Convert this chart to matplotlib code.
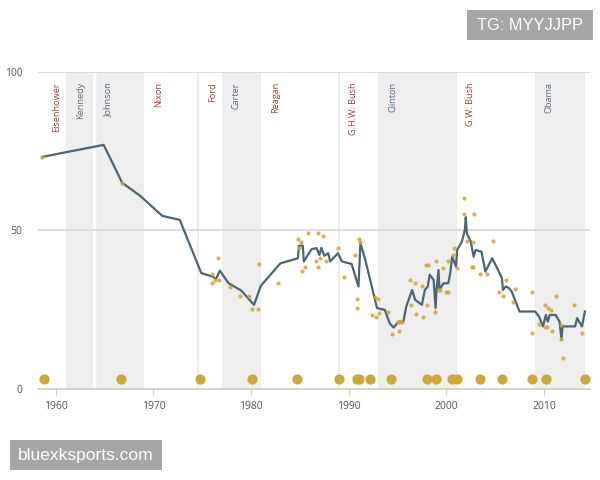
import matplotlib
matplotlib.use("Agg")
import matplotlib.pyplot as plt
from matplotlib.patches import Rectangle

# ---------------- data ----------------
presidents = ["Eisenhower", "Kennedy", "Johnson", "Nixon", "Ford", "Carter",
              "Reagan", "G.H.W. Bush", "Clinton", "G.W. Bush", "Obama"]
term_start = [1953.05, 1961.05, 1963.9, 1969.05, 1974.6, 1977.05,
              1981.05, 1989.05, 1993.05, 2001.05, 2009.05]
term_end = [1961.05, 1963.9, 1969.05, 1974.6, 1977.05, 1981.05,
            1989.05, 1993.05, 2001.05, 2009.05, 2014.2]
party = ["R", "D", "D", "R", "R", "D", "R", "R", "D", "R", "D"]

line_years = [1958.6, 1964.9, 1966.8, 1968.6, 1970.9, 1972.7, 1974.9, 1976.1, 1976.4, 1976.8,
              1977.7, 1979.0, 1980.3, 1981.0, 1983.0, 1984.8, 1984.9, 1985.3, 1985.4, 1986.2,
              1986.7, 1987.0, 1987.2, 1987.5, 1987.9, 1988.1, 1988.9, 1989.3, 1990.3, 1991.0,
              1991.2, 1991.7, 1992.9, 1993.7, 1994.2, 1994.6, 1995.1, 1995.6, 1995.9, 1996.5,
              1996.8, 1997.5, 1997.8, 1998.1, 1998.3, 1998.7, 1998.9, 1999.0, 1999.2, 1999.3,
              1999.7, 2000.2, 2000.4, 2000.6, 2001.0, 2001.1, 2001.6, 2001.9, 2002.0, 2002.1,
              2002.5, 2002.8, 2003.0, 2003.6, 2004.0, 2004.7, 2005.3, 2005.7, 2005.8, 2006.1,
              2006.4, 2006.7, 2007.5, 2009.1, 2009.5, 2009.9, 2010.2, 2010.4, 2010.6, 2011.2,
              2011.6, 2011.8, 2011.9, 2013.2, 2013.4, 2013.9, 2014.2]
line_values = [73.2, 77.0, 65.0, 61.0, 54.6, 53.3, 36.5, 35.4, 34.6, 37.3,
               33.3, 31.0, 26.5, 32.5, 39.6, 41.2, 45.1, 45.2, 40.2, 44.1,
               44.4, 42.3, 44.5, 42.0, 42.8, 40.2, 42.8, 40.2, 39.4, 32.3,
               46.0, 40.7, 25.5, 24.9, 20.7, 19.3, 21.2, 21.2, 26.0, 31.2,
               28.1, 26.5, 31.2, 32.3, 36.0, 34.4, 25.5, 31.2, 37.5, 31.2,
               33.3, 33.3, 36.5, 41.7, 38.6, 43.8, 46.5, 50.2, 54.2, 49.1,
               46.5, 41.7, 43.8, 43.3, 37.0, 41.2, 37.5, 34.9, 31.2, 32.3,
               31.8, 30.7, 24.4, 24.4, 22.8, 19.7, 23.3, 21.2, 23.3, 23.3,
               21.2, 15.5, 19.7, 19.7, 22.3, 19.7, 24.4]

poll_years = [1958.6, 1966.8, 1976.6, 1976.0, 1976.0, 1976.3, 1976.7, 1977.8, 1978.9, 1979.8,
              1980.1, 1980.7, 1980.8, 1982.8, 1984.8, 1985.1, 1984.9, 1985.8, 1986.9, 1987.4,
              1985.2, 1985.5, 1986.7, 1986.9, 1987.1, 1987.7, 1988.9, 1989.5, 1990.6, 1991.1,
              1991.2, 1990.9, 1990.8, 1992.7, 1993.0, 1992.4, 1992.8, 1993.1, 1994.0, 1994.4,
              1995.0, 1995.3, 1995.5, 1995.2, 1996.3, 1996.8, 1997.5, 1996.4, 1996.9, 1997.6,
              1998.0, 1997.9, 1998.1, 1998.9, 1998.8, 1999.7, 1999.3, 1999.4, 2000.0, 2000.2,
              2000.2, 2000.7, 2000.8, 2001.1, 2001.8, 2001.8, 2002.8, 2002.1, 2002.7, 2002.6,
              2002.7, 2003.5, 2004.2, 2004.8, 2005.4, 2005.8, 2006.1, 2007.0, 2006.8, 2008.8,
              2008.8, 2009.5, 2010.1, 2010.4, 2010.7, 2010.1, 2010.3, 2010.8, 2011.2, 2011.8,
              2011.8, 2012.0, 2013.1, 2013.9]
poll_values = [73.2, 65.0, 41.2, 36.3, 33.3, 34.2, 34.2, 32.1, 29.3, 29.3,
               25.3, 25.3, 39.3, 33.3, 47.2, 46.2, 44.5, 49.3, 49.3, 48.3,
               37.3, 38.4, 40.2, 38.4, 41.2, 40.2, 44.4, 35.2, 42.3, 47.2,
               46.2, 28.3, 25.5, 29.1, 28.3, 23.3, 22.6, 23.8, 24.4, 17.4,
               21.2, 21.2, 21.2, 18.3, 34.4, 33.3, 32.3, 26.5, 23.5, 22.6,
               26.5, 39.1, 39.1, 40.2, 24.4, 38.0, 31.2, 31.2, 30.4, 30.4,
               40.2, 42.3, 44.4, 38.0, 60.2, 55.2, 55.2, 46.5, 46.2, 38.4,
               38.4, 36.3, 36.3, 46.5, 30.4, 29.3, 34.4, 31.4, 27.5, 30.4,
               17.5, 20.5, 26.5, 25.5, 24.9, 19.4, 19.4, 18.4, 29.3, 20.2,
               15.6, 9.8, 26.5, 17.5]

event_years = [1958.8, 1966.7, 1974.8, 1980.1, 1984.7, 1989.0, 1990.8, 1991.1, 1992.2, 1994.3,
               1998.0, 1998.9, 2000.6, 2001.1, 2003.5, 2005.7, 2008.8, 2010.2, 2014.2]
event_values = [3] * len(event_years)

x_ticks = [1960, 1970, 1980, 1990, 2000, 2010]
y_ticks = [0, 50, 100]

# ---------------- style ----------------
plt.rcParams['font.family'] = ['Open Sans', 'DejaVu Sans']
band_color = "#eeeeee"
rep_color = "#9e3f3a"
dem_color = "#5f6a72"
line_color = "#4b6575"
dot_color = "#cfa832"

fig = plt.figure(figsize=(6, 4.8), dpi=100)
ax = fig.add_axes([0.063, 0.19, 0.92, 0.66])
xmin, xmax = 1958.15, 2014.7
ax.set_xlim(xmin, xmax)
ax.set_ylim(0, 100)

# bands
for name, s, e, p in zip(presidents, term_start, term_end, party):
    s2, e2 = max(s, xmin), min(e, xmax)
    if p == "D":
        ax.axvspan(s2, e2, ymin=0, ymax=1, color=band_color, lw=0, zorder=0)

# separators between same-party consecutive terms
for i in range(1, len(presidents)):
    if party[i] == party[i - 1]:
        if party[i] == "D":
            ax.plot([term_start[i]] * 2, [0, 100], color="white", lw=2.4,
                    zorder=0.5, solid_capstyle="butt")
        else:
            ax.plot([term_start[i]] * 2, [0, 100], color="#ececec", lw=1.5,
                    zorder=0.5, solid_capstyle="butt")

# gridlines
for yv in [50, 100]:
    ax.axhline(yv, color="#d9d9d9", lw=1.3, zorder=1)

# labels
for name, s, p in zip(presidents, term_start, party):
    xl = xmin + 1.9 if s < xmin else s + 1.45
    ax.text(xl, 96.8, name, rotation=90, ha="center", va="top", fontsize=6.6,
            color=rep_color if p == "R" else dem_color, zorder=3)

# data
ax.plot(line_years, line_values, color=line_color, lw=1.6, zorder=3)
ax.scatter(poll_years, poll_values, s=9, color=dot_color, alpha=0.85, lw=0, zorder=4)
ax.scatter(event_years, event_values, s=54, color=dot_color, lw=0, zorder=4, clip_on=False)

# axes
for sp in ["top", "right", "left"]:
    ax.spines[sp].set_visible(False)
ax.spines["bottom"].set_color("#cccccc")
ax.spines["bottom"].set_linewidth(1.2)
ax.set_xticks(x_ticks)
ax.set_xticklabels([str(v) for v in x_ticks])
ax.set_yticks(y_ticks)
ax.set_yticklabels([str(v) for v in y_ticks])
ax.tick_params(axis="x", length=4, color="#cccccc", labelsize=7.5, labelcolor="#555555", pad=5)
ax.tick_params(axis="y", length=0, labelsize=7.5, labelcolor="#555555", pad=11)

# watermarks
wm_font = ["Liberation Sans", "DejaVu Sans"]
fig.patches.append(Rectangle((467 / 600, 1 - 40 / 480), 126 / 600, 30 / 480,
                             transform=fig.transFigure, fc="#a6a6a6", ec="none"))
fig.text(530 / 600, 1 - 25.5 / 480, "TG: MYYJJPP", ha="center", va="center",
         fontsize=11.8, color="white", family=wm_font)
fig.patches.append(Rectangle((10 / 600, 1 - 470 / 480), 152 / 600, 30 / 480,
                             transform=fig.transFigure, fc="#a6a6a6", ec="none"))
fig.text(86 / 600, 1 - 455.5 / 480, "bluexksports.com", ha="center", va="center",
         fontsize=12.5, color="white", family=wm_font)

fig.savefig("out.png", dpi=100)
